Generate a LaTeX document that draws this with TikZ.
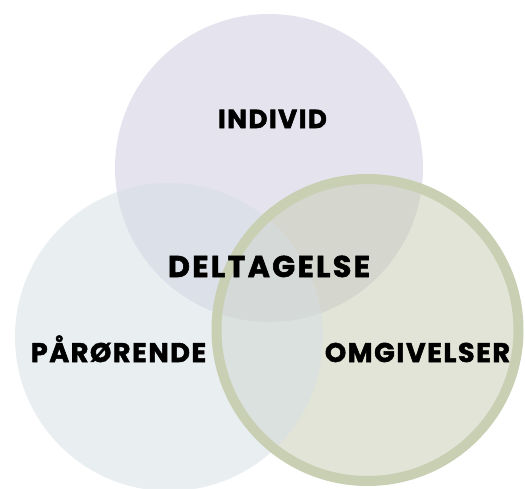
\documentclass[tikz,border=0pt]{standalone}
\usepackage{fontspec}
\newfontfamily\pop{Poppins}[FakeBold=2,LetterSpace=6]
\newfontfamily\popw{Poppins}[FakeBold=2,LetterSpace=8]
\definecolor{ctop}{RGB}{205,201,221}
\definecolor{cleft}{RGB}{213,223,229}
\definecolor{cright}{RGB}{199,203,177}
\definecolor{cborder}{RGB}{200,207,178}
\begin{document}
\begin{tikzpicture}[x=1pt,y=-1pt,
  blob/.style={fill opacity=0.5},
  lbl/.style={inner sep=0pt,anchor=base,font=\pop\bfseries\fontsize{26}{30}\selectfont,text=black}]
\useasboundingbox (0,0) rectangle (525,488);
\fill[white] (0,0) rectangle (525,488);
\fill[ctop,blob] (269,168) circle[radius=154];
\fill[cright,blob] (367.5,330) circle[radius=151];
\fill[cleft,blob] (169,337) circle[radius=154];
\draw[cborder,line width=10pt] (367.5,330) circle[radius=151];
\node[lbl] (ind) at (272.5,128) {INDIVID};
\node[lbl,font=\popw\bfseries\fontsize{30}{34}\selectfont] (del) at (269,277) {DELTAGELSE};
\node[lbl,font=\pop\bfseries\fontsize{27}{31}\selectfont] (par) at (118.5,362) {PÅRØRENDE};
\node[lbl,font=\pop\bfseries\fontsize{27}{31}\selectfont] (omg) at (417.5,362) {OMGIVELSER};
\end{tikzpicture}
\end{document}
